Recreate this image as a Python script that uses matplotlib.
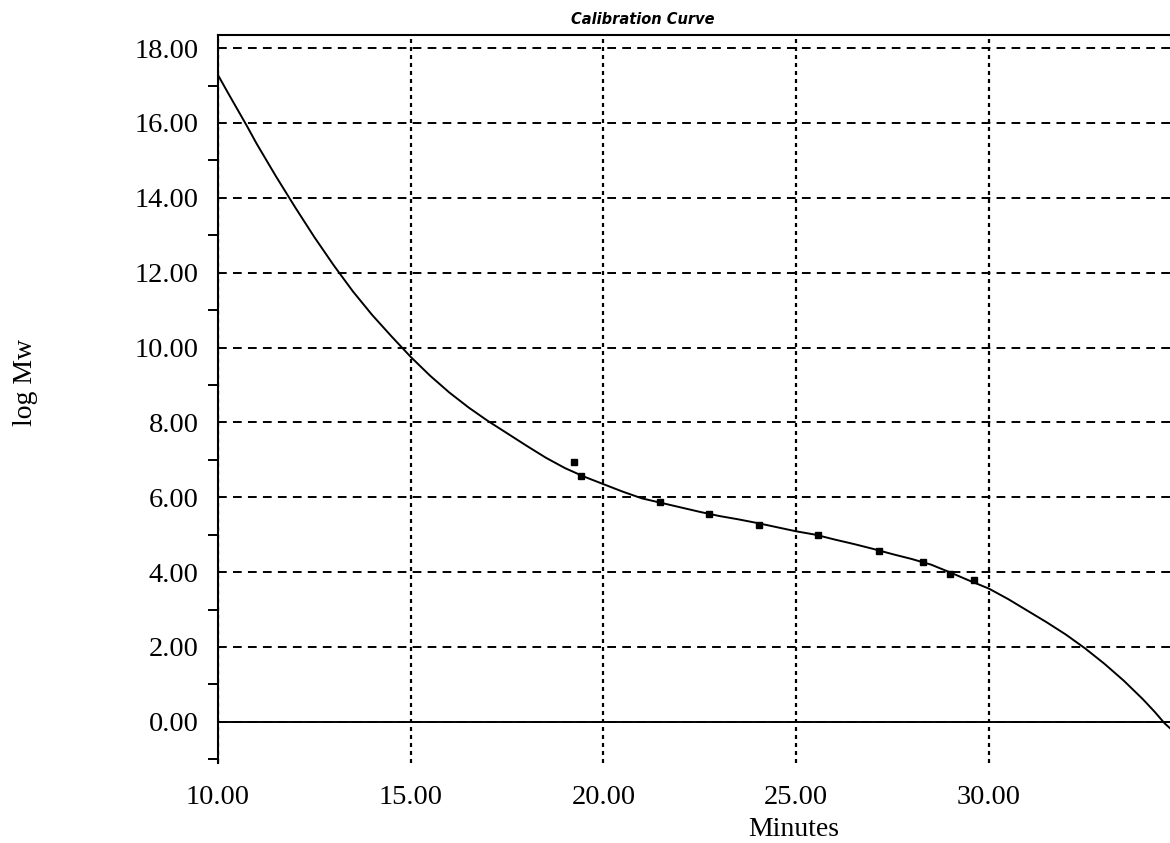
import matplotlib
matplotlib.use('Agg')
import matplotlib.pyplot as plt
from matplotlib.ticker import MultipleLocator, FormatStrFormatter

# calibration curve
curve_min = [10.0, 10.25, 10.5, 10.75, 11.0, 11.5, 12.0, 12.5, 13.0, 13.5,
             14.0, 14.5, 15.0, 15.5, 16.0, 16.5, 17.0, 17.5, 18.0, 18.5,
             19.0, 19.5, 20.0, 20.5, 21.0, 21.5, 22.0, 22.5, 23.0, 23.5,
             24.0, 24.5, 25.0, 25.5, 26.0, 26.5, 27.0, 27.5, 28.0, 28.5,
             29.0, 29.5, 30.0, 30.5, 31.0, 31.5, 32.0, 32.5, 33.0, 33.5,
             34.0, 34.3, 34.56, 34.7]
curve_logmw = [17.28, 16.82, 16.37, 15.92, 15.45, 14.58, 13.75, 12.95, 12.2, 11.5,
               10.87, 10.3, 9.75, 9.25, 8.8, 8.4, 8.04, 7.71, 7.38, 7.06,
               6.78, 6.55, 6.35, 6.15, 5.97, 5.85, 5.73, 5.61, 5.5, 5.41,
               5.31, 5.2, 5.09, 5.0, 4.87, 4.75, 4.62, 4.48, 4.35, 4.2,
               3.99, 3.77, 3.56, 3.28, 2.97, 2.66, 2.33, 1.96, 1.55, 1.1,
               0.6, 0.27, -0.04, -0.17]

# standards
std_min = [19.24, 19.43, 21.47, 22.74, 24.03, 25.57, 27.15, 28.28, 28.99, 29.61]
std_logmw = [6.95, 6.57, 5.88, 5.55, 5.26, 5.00, 4.56, 4.27, 3.96, 3.78]

xticks = [10, 15, 20, 25, 30]
yticks = [0, 2, 4, 6, 8, 10, 12, 14, 16, 18]

fig = plt.figure(figsize=(11.7, 8.43), dpi=100)
ax = fig.add_axes([218 / 1170, 1 - 763 / 843, 1 - 218 / 1170, (763 - 35) / 843])

serif = 'Liberation Serif'

ax.plot(curve_min, curve_logmw, color='black', lw=1.4, zorder=3)
ax.plot(std_min, std_logmw, ls='none', marker='s', ms=4.5, color='black', zorder=4)
ax.axhline(0, color='black', lw=1.4, zorder=2)

ax.set_xlim(10, 34.7)
ax.set_ylim(-1.1, 18.35)

ax.set_xticks(xticks)
ax.xaxis.set_major_formatter(FormatStrFormatter('%.2f'))
ax.set_yticks(yticks)
ax.yaxis.set_minor_locator(MultipleLocator(1))
ax.yaxis.set_major_formatter(FormatStrFormatter('%.2f'))

ax.tick_params(axis='x', length=0, pad=16, labelsize=20.5)
ax.tick_params(axis='y', which='major', length=0, pad=14, labelsize=20.5)
ax.tick_params(axis='y', which='minor', direction='out', length=7, width=1.4)
for lab in ax.get_xticklabels() + ax.get_yticklabels():
    lab.set_fontfamily(serif)

ax.grid(axis='y', color='black', lw=1.4, linestyle=(0, (4.5, 3.2)), zorder=1)
ax.grid(axis='x', color='black', lw=1.6, linestyle=(0, (1.8, 1.8)), zorder=1)

ax.spines['right'].set_visible(False)
ax.spines['bottom'].set_visible(False)
ax.spines['left'].set_linewidth(1.5)
ax.spines['top'].set_linewidth(1.5)

fig.text(643 / 1170, 1 - 20 / 843, 'Calibration Curve', ha='center', va='center',
         fontsize=10.5, style='italic', weight='bold', family='DejaVu Sans')
fig.text(794 / 1170, 1 - 829 / 843, 'Minutes', ha='center', va='center',
         fontsize=20, family=serif)
fig.text(26 / 1170, 1 - 383 / 843, 'log Mw', ha='center', va='center',
         rotation=90, fontsize=20, family=serif)

fig.savefig('out.png', dpi=100)
